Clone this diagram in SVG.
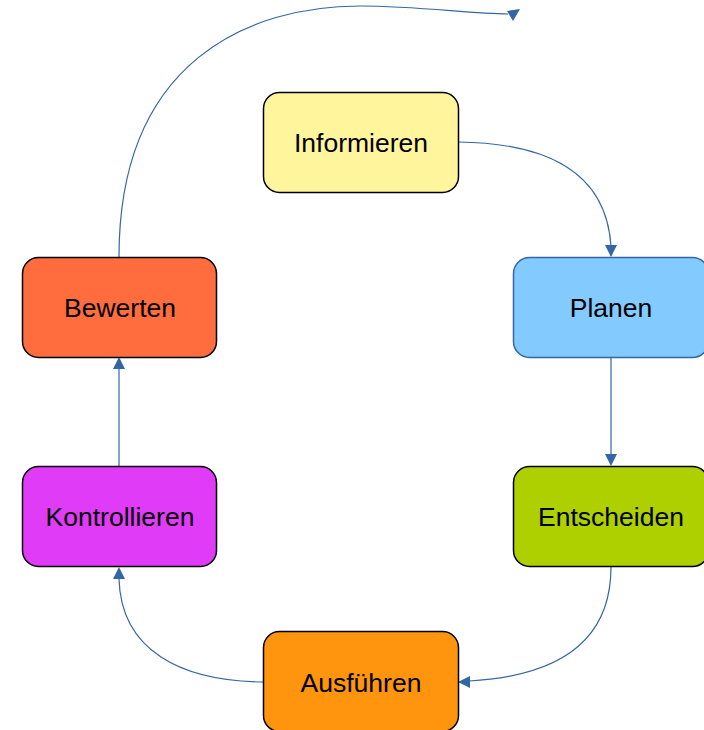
<svg xmlns="http://www.w3.org/2000/svg" width="704" height="730" viewBox="0 0 704 730">
<style>
.box{stroke:#000;stroke-width:1.5}
.lbl{font-family:"Liberation Sans",Arial,sans-serif;font-size:26.5px;fill:#000;text-anchor:middle}
.con{fill:none;stroke:#3465a4;stroke-width:1.2}
.ah{fill:#3465a4}
</style>
<rect width="704" height="730" fill="#fff"/>
<g id="connectors">
<path class="con" d="M458,142 C545,143 606,170 611,246"/>
<polygon class="ah" points="611,257 605,245 617,245"/>
<path class="con" d="M611,357 L611,455"/>
<polygon class="ah" points="611,466 605,454 617,454"/>
<path class="con" d="M611,567 C611,640 560,676 469,681"/>
<polygon class="ah" points="458,682 470,676 470,688"/>
<path class="con" d="M263,682 C180,681 121,650 119,579"/>
<polygon class="ah" points="119,567 113,579 125,579"/>
<path class="con" d="M119,466 L119,369"/>
<polygon class="ah" points="119,357 113,369 125,369"/>
<path class="con" d="M119,257 C119,60 250,6 360,6 C420,6 470,14 508,14"/>
<polygon class="ah" points="507,11 520,9 513,21"/>
</g>
<g id="informieren"><rect class="box" x="263.5" y="92.5" width="195" height="100" rx="16" fill="#fff59d"/><text class="lbl" x="361" y="152">Informieren</text></g>
<g id="planen"><rect x="513.5" y="257.5" width="195" height="100" rx="16" fill="#83caff" stroke="#3465a4" stroke-width="1.5"/><text class="lbl" x="611" y="317">Planen</text></g>
<g id="entscheiden"><rect class="box" x="513.5" y="466.5" width="195" height="100" rx="16" fill="#aecf00"/><text class="lbl" x="611" y="526">Entscheiden</text></g>
<g id="ausfuehren"><rect class="box" x="263.5" y="631.5" width="195" height="100" rx="16" fill="#ff950e"/><text class="lbl" x="361" y="692">Ausführen</text></g>
<g id="kontrollieren"><rect class="box" x="22.5" y="466.5" width="194" height="100" rx="16" fill="#e03cf8"/><text class="lbl" x="120" y="526">Kontrollieren</text></g>
<g id="bewerten"><rect class="box" x="22.5" y="257.5" width="194" height="100" rx="16" fill="#ff6d3f"/><text class="lbl" x="120" y="317">Bewerten</text></g>
</svg>
